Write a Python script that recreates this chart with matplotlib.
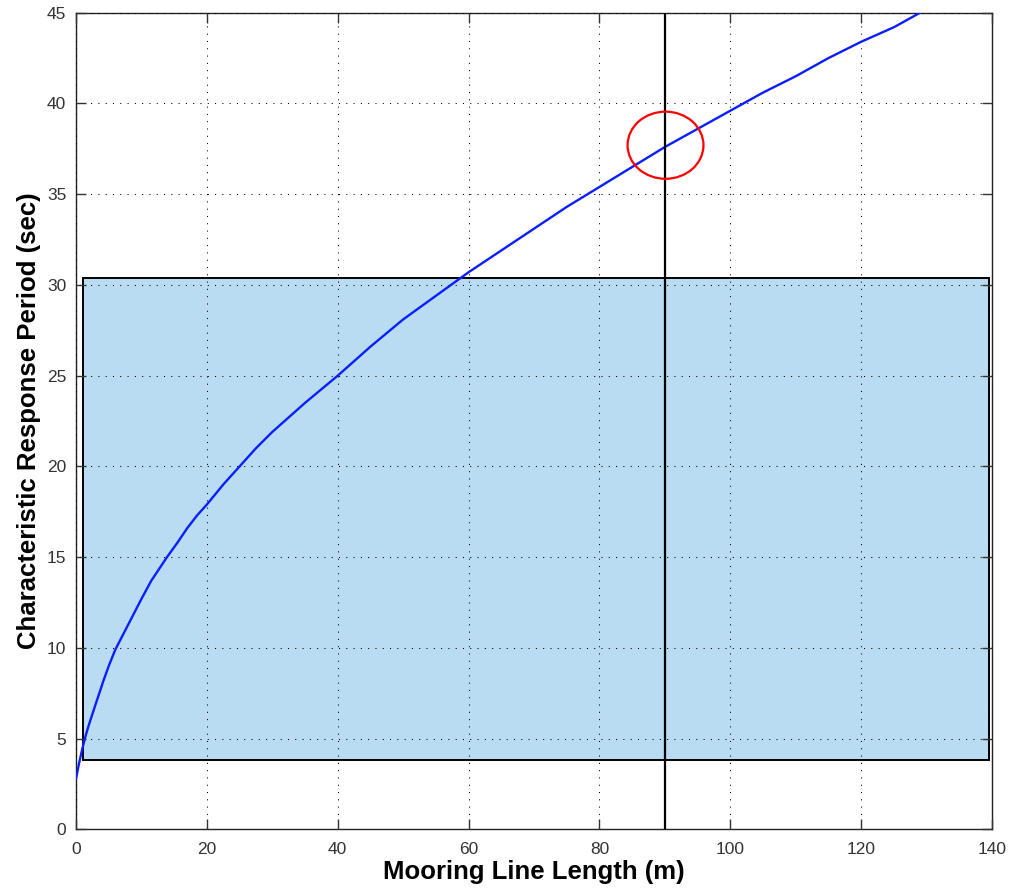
import numpy as np
import matplotlib
matplotlib.use("Agg")
import matplotlib.pyplot as plt
from matplotlib.patches import Rectangle, Ellipse

# curve points
line_length = [0, 0.5, 1.0, 1.5, 2.0, 3.0, 4.2, 5.0, 6.0, 7.0, 8.0, 9.0, 10.0, 11.5,
               13.9, 15.5, 17.0, 18.5, 20.0, 22.5, 25.0, 27.5, 30.0, 35.0, 40.0, 45.0,
               50.0, 55.0, 60.0, 65.0, 70.0, 75.0, 80.0, 85.0, 90.0, 95.0, 100.0,
               105.0, 110.0, 115.0, 120.0, 125.0, 129.0]
period = [2.8, 3.7, 4.5, 5.2, 5.8, 6.9, 8.2, 9.0, 9.9, 10.6, 11.3, 12.0, 12.7, 13.7,
          15.0, 15.8, 16.6, 17.3, 17.9, 19.0, 20.0, 21.0, 21.9, 23.5, 25.0, 26.6,
          28.1, 29.4, 30.7, 31.9, 33.1, 34.3, 35.4, 36.5, 37.6, 38.6, 39.6,
          40.6, 41.5, 42.5, 43.4, 44.2, 45.0]

# shaded band
band_x = [1.0, 139.5]
band_y = [3.8, 30.4]

selected_length = 90
marker_center = (90.1, 37.7)
marker_size = (11.6, 3.7)

fig = plt.figure(figsize=(10.11, 8.91), dpi=100)
ax = fig.add_axes([0.0752, 0.0692, 0.906, 0.9165])

ax.add_patch(Rectangle((band_x[0], band_y[0]), band_x[1] - band_x[0], band_y[1] - band_y[0],
                       facecolor="#b9dcf2", edgecolor="black", linewidth=1.4, zorder=1))
ax.plot(line_length, period, color="#0a1eff", linewidth=1.7, zorder=3)
ax.axvline(selected_length, color="black", linewidth=1.6, zorder=4)
ax.add_patch(Ellipse(marker_center, marker_size[0], marker_size[1], fill=False,
                     edgecolor="red", linewidth=1.6, zorder=5))

ax.set_xlim(0, 140)
ax.set_ylim(0, 45)
ax.set_xticks(np.arange(0, 141, 20))
ax.set_yticks(np.arange(0, 46, 5))
ax.grid(True, color="black", linestyle=(0, (1, 6)), linewidth=0.75, zorder=2)
ax.set_axisbelow(False)
ax.tick_params(direction="in", top=True, right=True, length=7, width=1,
               labelsize=12.5, colors="#333333", labelfontfamily="Liberation Sans")
ax.tick_params(axis="x", pad=9)
ax.tick_params(axis="y", pad=7)
for s in ax.spines.values():
    s.set_linewidth(1.0)
    s.set_color("#222222")

ax.set_xlabel("Mooring Line Length (m)", fontsize=18.5, fontweight="bold",
              family="Liberation Sans", labelpad=2)
ax.set_ylabel("Characteristic Response Period (sec)", fontsize=18.5, fontweight="bold",
              family="Liberation Sans", labelpad=4)

fig.savefig("out.png", dpi=100)
